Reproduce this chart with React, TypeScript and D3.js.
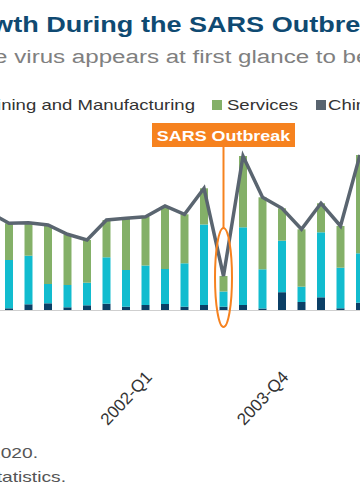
import React from "react";
import * as d3 from "d3";

const categories = [
  "2000-Q2", "2000-Q3", "2000-Q4", "2001-Q1", "2001-Q2", "2001-Q3", "2001-Q4",
  "2002-Q1", "2002-Q2", "2002-Q3", "2002-Q4", "2003-Q1", "2003-Q2", "2003-Q3",
  "2003-Q4", "2004-Q1", "2004-Q2", "2004-Q3", "2004-Q4", "2005-Q1",
];
const agriculture = [0.5, 0.17, 0.57, 0.67, 0.27, 0.47, 0.63, 0.33, 0.5, 0.6, 0.33, 0.5, 0.33, 0.5, 0.15, 1.78, 0.8, 1.27, 0.17, 0.73];
const industry = [4.9, 4.83, 4.86, 1.93, 2.23, 2.26, 4.64, 3.67, 3.95, 3.5, 4.34, 8.05, 1.52, 7.77, 3.92, 5.15, 1.53, 6.5, 4.06, 4.94];
const services = [4.35, 3.67, 3.3, 5.9, 5.07, 4.27, 3.73, 5.17, 4.88, 6.3, 4.9, 3.62, 1.55, 7.13, 7.2, 3.24, 5.74, 2.9, 4.17, 9.83];
const gdp = [9.75, 8.67, 8.73, 8.5, 7.57, 7.0, 9.0, 9.17, 9.33, 10.4, 9.57, 12.17, 3.4, 15.4, 11.27, 10.17, 8.07, 10.67, 8.4, 15.5];
const tickLabels = ["2002-Q1", "2003-Q4"];
const outbreakQuarter = "2003-Q2";

const seriesKeys = ["agriculture", "industry", "services"];
const colors: Record<string, string> = {
  agriculture: "#0b3f66",
  industry: "#12bccf",
  services: "#84b068",
};

export default function App() {
  const W = 360, H = 504;
  const step = 19.5;
  const x = d3.scaleBand<string>()
    .domain(categories)
    .range([-20.25, -20.25 + step * categories.length])
    .paddingInner(0.59)
    .paddingOuter(0.295);
  const y = d3.scaleLinear().domain([0, 16]).range([310, 150]);

  const rows = categories.map((c, i) => ({
    cat: c,
    agriculture: agriculture[i],
    industry: industry[i],
    services: services[i],
  }));
  const stacked = d3.stack<any>().keys(seriesKeys)(rows);
  const cx = (c: string) => (x(c) as number) + x.bandwidth() / 2;
  const line = d3.line<number>()
    .x((_, i) => cx(categories[i]))
    .y((d) => y(d));

  const ox = cx(outbreakQuarter);
  const sx = 1.27;

  return (
    <svg width={W} height={H} style={{ position: "absolute", left: 0, top: 0, background: "#fff" }}
      fontFamily="'Liberation Sans', Arial, sans-serif">
      {/* title */}
      <text transform={`translate(-56,32) scale(1.23,1)`} fontSize={22} fontWeight="bold" fill="#0f4a72">
        Growth During the SARS Outbreak
      </text>
      <text transform={`translate(-26,63) scale(${sx},1)`} fontSize={19} fill="#808080">
        the virus appears at first glance to be modest
      </text>
      {/* legend */}
      <text transform={`translate(195,110) scale(1.28,1)`} fontSize={14.5} fill="#333" textAnchor="end">
        Mining and Manufacturing
      </text>
      <rect x={212} y={100} width={10} height={10} fill={colors.services} />
      <text transform={`translate(227,110) scale(1.28,1)`} fontSize={14.5} fill="#333">Services</text>
      <rect x={316} y={100} width={10} height={10} fill="#59646f" />
      <text transform={`translate(328,110) scale(1.28,1)`} fontSize={14.5} fill="#333">China GDP</text>

      {/* bars */}
      {stacked.map((s) => (
        <g key={s.key} fill={colors[s.key]}>
          {s.map((d, i) => (
            <rect key={i} x={x(categories[i])} width={x.bandwidth()}
              y={y(d[1])} height={y(d[0]) - y(d[1])} />
          ))}
        </g>
      ))}
      {/* baseline */}
      <line x1={0} x2={W} y1={y(0) + 0.5} y2={y(0) + 0.5} stroke="#cfcfcf" strokeWidth={1} />
      {/* GDP line */}
      <path d={line(gdp) as string} fill="none" stroke="#5a6570" strokeWidth={3.5} strokeLinejoin="miter" />

      {/* outbreak annotation */}
      <ellipse cx={ox} cy={277.5} rx={8.5} ry={49.5} fill="none" stroke="#f6821f" strokeWidth={2} />
      <line x1={ox} x2={ox} y1={147} y2={228} stroke="#f6821f" strokeWidth={2} />
      <rect x={152} y={123} width={143} height={24} fill="#f6821f" />
      <text transform={`translate(${(152 + 295) / 2},140.5) scale(1.28,1)`} fontSize={14} fontWeight="bold"
        fill="#fff" textAnchor="middle">SARS Outbreak</text>

      {/* x tick labels */}
      {tickLabels.map((t) => (
        <text key={t} transform={`translate(${cx(t)},398) rotate(-47)`} fontSize={17} fill="#333"
          textAnchor="middle" dy="0.35em">{t}</text>
      ))}

      {/* footnotes */}
      <text transform={`translate(38,458) scale(1.28,1)`} fontSize={15} fill="#555" textAnchor="end">2020.</text>
      <text transform={`translate(66,482) scale(1.28,1)`} fontSize={15} fill="#555" textAnchor="end">Statistics.</text>
    </svg>
  );
}
